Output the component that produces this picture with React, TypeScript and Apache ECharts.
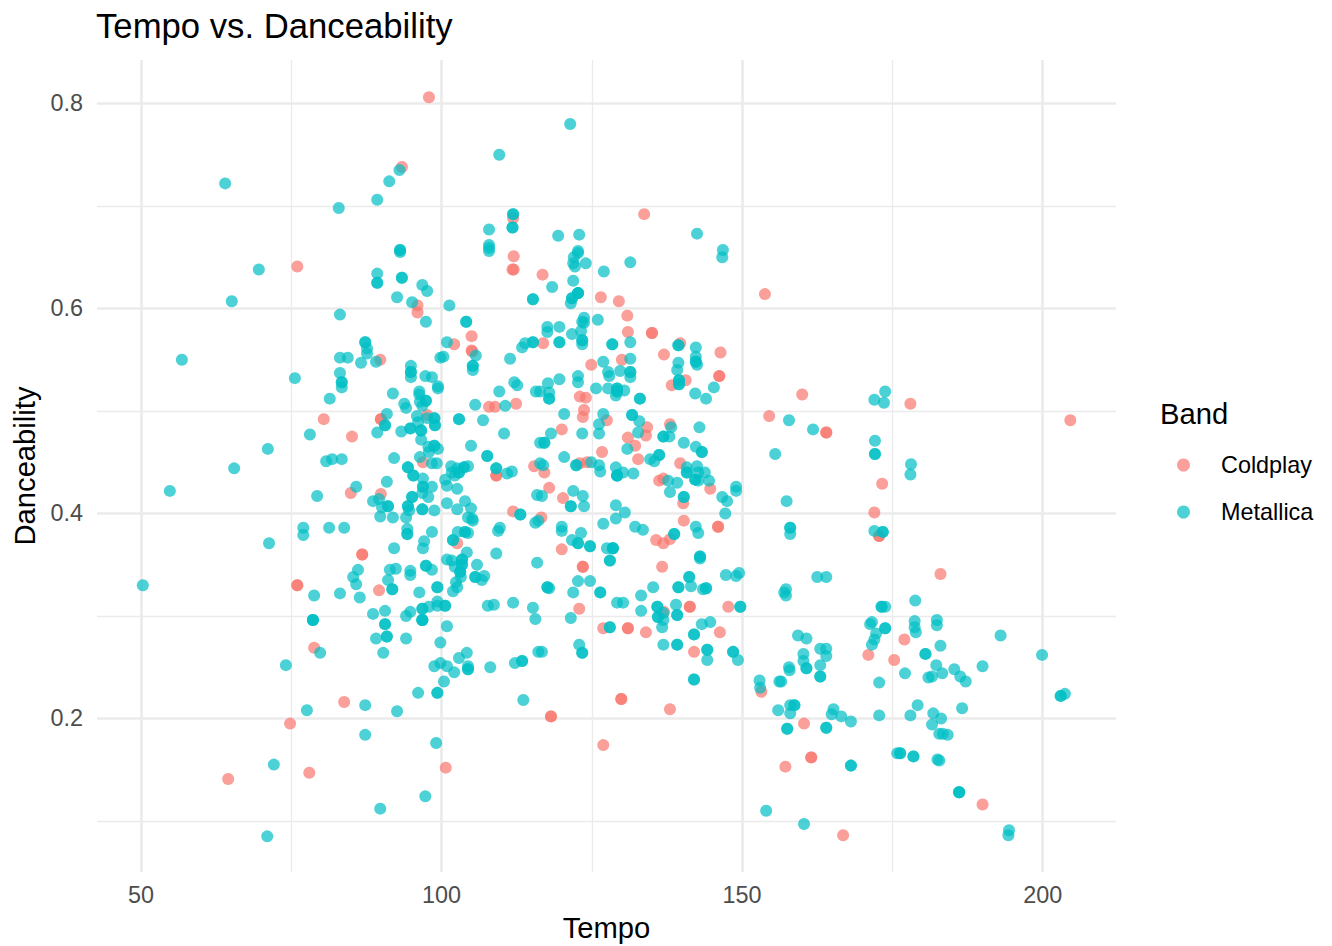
import React, { useEffect, useRef } from "react";
import * as echarts from "echarts";

const xMajor = [50, 100, 150, 200];
const xMinor = [75, 125, 175];
const yMajor = [0.2, 0.4, 0.6, 0.8];
const yMinor = [0.1, 0.3, 0.5, 0.7];

const coldplay: number[][] = [
  [97.9,.806],[93.4,.738],[76,.641],[133.7,.692],[111.9,.688],[112,.651],[112,.638],[111.8,.638],[116.8,.633],[126.5,.611],
  [129.5,.607],[130.9,.593],[131,.577],[96,.603],[96,.596],[153.8,.614],[105,.573],[102.1,.565],[105,.559],[105.1,.558],
  [135,.576],[135,.576],[139.7,.566],[137,.555],[146.4,.557],[146.2,.534],[146.2,.534],[130,.55],[89.8,.55],[124.9,.545],
  [138.3,.525],[140.6,.53],[160,.516],[178,.507],[123,.514],[124,.513],[123.7,.501],[123.5,.494],[120,.482],[127.5,.491],
  [134.2,.484],[134,.476],[138,.487],[131,.474],[132.2,.466],[132.7,.453],[126.7,.46],[123,.449],[124.2,.45],[117.1,.44],
  [117.9,.425],[120.2,.415],[139.7,.449],[136.2,.432],[136.9,.434],[144.7,.424],[140.2,.41],[140.3,.393],[146,.387],[146,.387],
  [135.7,.374],[136.9,.371],[138,.375],[120,.365],[123.5,.348],[123.5,.348],[136.7,.348],[122.9,.307],[141.3,.309],[141.3,.309],
  [147.7,.309],[126.9,.288],[131,.288],[131,.288],[134,.284],[146.3,.284],[137,.304],[142,.265],[129.9,.219],[129.9,.219],
  [80.4,.492],[85.1,.475],[89.9,.492],[89.9,.492],[97.6,.496],[96.9,.45],[89.9,.419],[84.9,.42],[107.9,.504],[108.9,.504],
  [112.4,.507],[109.1,.437],[109.1,.437],[115.4,.446],[111.9,.402],[116.6,.396],[102.6,.371],[116.9,.566],[86.8,.36],[86.8,.36],
  [76,.33],[76,.33],[89.6,.325],[154.5,.495],[204.6,.491],[164,.479],[164,.479],[173.3,.429],[172,.401],[172.8,.378],
  [172.8,.378],[183,.341],[177,.277],[78.8,.269],[171,.262],[175.3,.257],[153.2,.226],[83.8,.216],[138,.209],[118.2,.202],
  [118.2,.202],[74.8,.195],[160.3,.195],[126.9,.174],[64.5,.141],[78,.147],[100.7,.152],[157.2,.153],[161.5,.162],[161.5,.162],
  [190,.116],[166.8,.086],
];

const metallicaLeft: number[][] = [
  [50.3,.33],[54.8,.422],[56.8,.55],[64,.722],[65.1,.607],[65.5,.444],[69.6,.638],[71.1,.463],[71.3,.371],[71,.085],
  [72.1,.155],[74.1,.252],[75.6,.532],[77,.386],[77,.379],[77.6,.208],[78.1,.477],[78.6,.296],[78.6,.296],[78.6,.296],
  [78.8,.32],[79.3,.417],[79.8,.264],[80.8,.451],[81.8,.453],[81.4,.512],[81.3,.386],[82.9,.698],[83.1,.594],
  [87.3,.213],[87.3,.184],[89.8,.112],[92.6,.207],[99.1,.176],[97.3,.124],
  [89.3,.706],[91.3,.724],[93,.735],[89.3,.634],[89.3,.625],[89.3,.625],[93.1,.657],[93.1,.657],[93.1,.655],[93.4,.63],[93.4,.63],
  [92.6,.611],[96.8,.623],[97.6,.617],[95.1,.606],[101.3,.603],[107.9,.677],[107.9,.662],[107.9,.659],[107.9,.656],
  [111.9,.692],[111.9,.692],[111.8,.679],[111.8,.679],[109.6,.75],[115.2,.609],[115.2,.609],
];

const metallicaTopLeft: number[][] = [
  [97.4,.587],[104.1,.587],[104.1,.587],[87.3,.567],[87.3,.567],[87.6,.561],[87.6,.556],[84.4,.552],[86.6,.547],[89.1,.548],
  [83.1,.552],[100.9,.567],[105.7,.554],[99.8,.552],[100.3,.553],[105.2,.544],[105.2,.544],[105.2,.54],[111.4,.551],[113.4,.562],
  [113.9,.566],[115.2,.567],[115.2,.567],[94.9,.544],[94.9,.538],[94.9,.538],[94.9,.533],[97.3,.534],[98.4,.533],[83.1,.537],
  [83.4,.528],[83.4,.528],[83.4,.523],[99.4,.524],[99.4,.522],[91.9,.517],[96.3,.519],[96.3,.516],[93.8,.507],[94.1,.503],
  [97.4,.51],[97.4,.51],[96.4,.509],[96.8,.505],[109.6,.519],[112.1,.528],[112.6,.525],[115.7,.519],[105.6,.506],[110.6,.505],
  [90.9,.497],[90.6,.486],[90.6,.486],[89.3,.479],[93.3,.48],[94.8,.483],[94.8,.483],[95.9,.495],[96.1,.489],[96.6,.481],
  [96.6,.481],[97.6,.493],[98.8,.493],[98.8,.493],[98.9,.486],[98.9,.486],[102.9,.492],[102.9,.492],[106.9,.491],[110.4,.478],
  [96.6,.472],[104.9,.466],[83.4,.453],[92.1,.454],[97.8,.465],[98.8,.466],[98.8,.466],[99.4,.463],[96.4,.455],[97.9,.46],
  [98.4,.449],[99.2,.449],[107.6,.456],[107.6,.456],[109.1,.444],[109.1,.444],[111.7,.441],[110.9,.439],[101.6,.446],[101.7,.44],
  [102.2,.437],[102.9,.44],[102.9,.44],[103.7,.445],[103.7,.445],[104.4,.446],[102.6,.444],[94.4,.445],[94.4,.445],[95.3,.437],
  [95.3,.437],[96.9,.434],[96.9,.426],[96.9,.426],[98.4,.426],[90.9,.431],[100.6,.433],[100.9,.427],[102.6,.424],[85.8,.426],
  [88.6,.412],[89.6,.414],[90.1,.406],[91.1,.407],[91.1,.407],[96.8,.42],[97.8,.416],[95.1,.416],[95.1,.416],[94.4,.407],
  [94.4,.407],[94.6,.403],[96.8,.404],[96.8,.404],[98.8,.403],[100.9,.41],[102.6,.404],[103.9,.412],[104.9,.405],[89.8,.397],
  [91.9,.396],[94.1,.396],[104.4,.396],[105.1,.395],[113.1,.399],[113.1,.399],[115.9,.418],[116.4,.469],[116.4,.449],
];

const metallicaTopMiddle: number[][] = [
  [121.4,.78],[119.4,.671],[122.9,.672],[142.5,.673],[146.8,.657],[146.7,.65],[122,.65],[122.7,.654],[122.7,.656],[121.9,.644],
  [122.2,.641],[124,.644],[127,.636],[131.4,.645],[118.4,.621],[121.9,.627],[122.7,.615],[122.7,.615],[122.7,.615],[121.7,.61],
  [121.7,.61],[121.5,.605],[123.7,.591],
  [117.6,.582],[117.6,.577],[119.6,.582],[119.6,.567],[119.6,.567],[121.7,.575],[123.4,.587],[123.7,.586],[126,.589],[123.2,.578],
  [123.4,.569],[123.4,.569],[123.4,.565],[128.4,.565],[128.4,.565],[131.4,.567],[139.4,.564],[139.4,.564],[142.3,.562],[142.3,.553],
  [142.3,.548],[142.3,.548],[142.5,.545],[126.9,.548],[131.4,.551],[127.7,.538],[127.9,.534],[129.7,.539],[131.4,.538],[131.4,.538],
  [131.4,.533],[139.4,.547],[139.2,.54],[139.5,.53],[139.5,.53],[139.5,.526],[139.5,.526],[122.7,.534],[122.7,.528],[119.6,.531],
  [117.7,.527],[117.9,.518],[117.9,.512],[117.9,.512],[116.4,.519],[125.7,.522],[127.7,.522],[129.2,.522],[129.2,.522],[129.2,.519],
  [129.2,.519],[130.4,.52],[129,.515],[133,.512],[133,.512],[142.2,.517],[144,.512],[145.3,.523],[120.4,.497],[126.9,.497],
  [126.2,.487],[126.2,.478],[123.4,.478],[131.7,.496],[131.7,.496],[132.9,.49],[132.7,.479],[138.2,.484],[142.9,.484],[118.2,.478],
  [117.1,.469],[117.1,.469],[136.9,.475],[136.9,.475],[137.9,.475],[140.3,.469],[142.3,.465],[143.3,.46],[143.3,.46],[130.9,.463],
  [120.4,.455],[122.4,.447],[122.4,.447],[124.9,.45],[126.2,.447],[126.4,.441],[129,.445],[130.2,.44],[129.2,.437],[129.2,.437],
  [129.2,.437],[131.9,.439],[134.7,.453],[135.4,.451],[136.2,.457],[136.2,.457],[140.8,.445],[140.8,.44],[140.8,.44],[142.5,.446],
  [142.7,.44],[143.8,.44],[142.2,.433],[142.2,.433],[142.7,.432],[144.5,.432],[137.7,.432],[139.2,.43],[138,.421],[140.3,.416],
  [140.3,.416],[149,.426],[149,.422],[146.7,.416],[147.5,.412],[147.2,.4],[121.9,.422],[123.5,.417],[121.5,.407],[121.5,.407],
  [123.7,.407],[129,.408],[130.5,.401],[116.7,.417],[116.9,.447],
];

const metallicaBottomLeft: number[][] = [
  [83.8,.386],[94.3,.385],[94.3,.38],[94.3,.38],[98.4,.382],[97.1,.373],[96.9,.366],[92.1,.366],[101.9,.374],[101.9,.374],
  [102.7,.382],[103.9,.382],[103.9,.382],[104.4,.381],[105.2,.393],[109.4,.383],[109.7,.386],[115.6,.391],[116.1,.393],[104.2,.362],
  [109.1,.361],[115.9,.352],[100.9,.355],[101.7,.354],[103.4,.355],[103.4,.355],[103.4,.35],[103.4,.35],[102.2,.348],[103.1,.343],
  [103.1,.343],[103.2,.338],[105.9,.35],[105.6,.338],[105.6,.338],[107.1,.339],[106.7,.335],[97.4,.349],[97.4,.349],[98.4,.345],
  [94.8,.344],[94.8,.34],[92.4,.346],[91.4,.345],[91.1,.335],[91.8,.326],[91.8,.326],[86.1,.345],[85.3,.338],[85.8,.331],
  [83.1,.322],[86.4,.318],[96.3,.323],[99.3,.328],[99.3,.328],[102.4,.333],[102.6,.328],[101.9,.324],[99.3,.314],[99.3,.31],
  [97.9,.309],[100.6,.31],[100.6,.31],[107.7,.31],[108.7,.311],[111.9,.313],[115.2,.308],[115.6,.297],[96.8,.307],[96.8,.307],
  [96.8,.296],[96.8,.296],[96.8,.296],[94.8,.304],[94.1,.3],[90.6,.305],[88.6,.302],[90.6,.292],[90.6,.292],[90.9,.28],
  [90.9,.28],[89.1,.278],[94.1,.278],[90.3,.264],[100.9,.29],[99.8,.274],[104.2,.264],[102.9,.259],[104.4,.251],[104.4,.248],
  [104.4,.248],[102.1,.245],[100.9,.251],[99.8,.254],[98.8,.251],[108.1,.25],[112.2,.254],[113.4,.256],[113.4,.256],[116.1,.265],
  [100.4,.236],[96.1,.225],[99.3,.225],[99.3,.225],[113.6,.218],
];

const metallicaBottomMiddle: number[][] = [
  [126.9,.39],[129,.395],[132.2,.387],[133.5,.384],[120,.387],[120,.383],[123.2,.381],[121.7,.374],[122.7,.371],[122.7,.371],
  [124.7,.368],[124.7,.368],[127.5,.366],[128.5,.366],[128.5,.366],[128.5,.366],[128,.354],[128,.354],[138.7,.38],[138.7,.38],
  [142.3,.387],[142.7,.381],[143,.358],[143,.358],[143,.356],[147.3,.34],[149,.339],[149.5,.342],[141.2,.338],[141.2,.338],
  [141.5,.329],[139.4,.328],[139.4,.328],[143.5,.326],[144,.327],[144,.327],[135.2,.328],[133.2,.32],[133.2,.305],[126.4,.323],
  [126.4,.323],[122.7,.334],[124.7,.334],[121.9,.323],[117.6,.328],[117.6,.328],[117.9,.327],[129.2,.313],[130.2,.313],[135.9,.309],
  [135.9,.309],[136,.299],[136,.299],[136.9,.303],[136.9,.296],[136.7,.289],[139,.311],[139.2,.301],[139.2,.301],[144.7,.294],
  [143.3,.292],[142,.282],[142,.282],[136.9,.272],[139.2,.272],[139.2,.272],[144.2,.267],[144.2,.267],[144.2,.257],[148.5,.265],
  [148.5,.265],[149.3,.257],[142,.238],[142,.238],[128,.289],[128,.289],[121.5,.298],[122.9,.272],[123.4,.264],[123.4,.264],
  [116.7,.265],[149.7,.309],[149.7,.309],
];

const metallicaRight: number[][] = [
  [152.9,.237],[153,.23],[156.2,.236],[156.5,.236],[156,.208],[157.8,.25],[157.9,.247],[157.5,.19],[157.5,.19],[157,.323],
  [157.3,.32],[157.3,.326],[157.4,.412],[158,.386],[158,.386],[158,.38],[157.8,.491],[155.5,.458],[161.8,.482],[154,.11],
  [160.3,.097],[159.3,.281],[160.2,.263],[160.7,.278],[160.2,.256],[160.7,.249],[160.7,.249],[158,.213],[158.7,.213],[158.7,.213],
  [158,.205],[163,.268],[163,.252],[163,.241],[163,.241],[164,.268],[164,.261],[162.5,.338],[164,.338],[164,.191],
  [164,.191],[165.2,.209],[164.9,.204],[166.5,.202],[168.1,.197],[168.1,.154],[168.1,.154],[171.3,.292],[171.6,.294],[172,.511],
  [173.8,.519],[173.6,.508],[172.1,.471],[172.1,.458],[172.1,.458],[172,.383],[173.4,.382],[173.4,.382],[172,.277],[171.6,.272],
  [172.3,.283],[172.8,.235],[172.8,.203],[173.2,.309],[173.2,.309],[173.8,.309],[173.8,.288],[173.8,.288],[175.8,.166],[176.3,.166],
  [176.3,.166],[178,.203],[178.1,.448],[178,.438],[177.1,.244],[178.7,.295],[178.7,.289],[178.9,.284],[178.5,.163],[178.5,.163],
  [178.8,.315],[179.2,.213],[180.5,.263],[180.5,.263],[181,.24],[181.6,.241],[181.8,.205],[181.6,.194],[182.3,.252],[182.4,.296],
  [182.4,.291],[183.1,.2],[182.8,.185],[183.4,.185],[184.2,.184],[183,.271],[183.3,.244],[182.5,.16],[182.8,.159],[185.3,.248],
  [186.3,.241],[186.6,.21],[187.2,.236],[186.1,.128],[186.1,.128],[186.1,.128],[190,.251],[193,.281],[194.4,.091],[194.3,.086],
  [199.9,.262],[203,.222],[203,.222],[203.7,.224],
];

const metallica = [
  ...metallicaLeft,
  ...metallicaTopLeft,
  ...metallicaTopMiddle,
  ...metallicaBottomLeft,
  ...metallicaBottomMiddle,
  ...metallicaRight,
];

const FONT = "'Liberation Sans', Arial, Helvetica, sans-serif";
const GRID_COLOR = "#EBEBEB";

export default function App() {
  const ref = useRef<HTMLDivElement>(null);
  useEffect(() => {
    const chart = echarts.init(ref.current!, undefined, { renderer: "svg" });
    const xRange = { type: "value", min: 42.68, max: 212.2, scale: true };
    const yRange = { type: "value", min: 0.0502, max: 0.8424, scale: true };
    chart.setOption({
      animation: false,
      backgroundColor: "#ffffff",
      textStyle: { fontFamily: FONT },
      title: {
        text: "Tempo vs. Danceability",
        left: 96,
        top: 8,
        padding: 0,
        textStyle: { fontFamily: FONT, fontSize: 34.7, fontWeight: "normal", color: "#000" },
      },
      grid: { left: 97, top: 60, width: 1019, height: 812, containLabel: false, outerBoundsMode: "none" },
      xAxis: [
        {
          ...xRange,
          name: "Tempo",
          nameLocation: "middle",
          nameGap: 41,
          nameTextStyle: { fontFamily: FONT, fontSize: 29.2, color: "#000" },
          axisLine: { show: false },
          axisTick: { show: false, customValues: xMajor },
          axisLabel: {
            customValues: xMajor,
            color: "#4D4D4D",
            fontFamily: FONT,
            fontSize: 23.4,
            margin: 11,
            hideOverlap: false,
            showMinLabel: true,
            showMaxLabel: true,
          },
          splitLine: { show: true, lineStyle: { color: GRID_COLOR, width: 2.7 } },
        },
        {
          ...xRange,
          position: "bottom",
          axisLine: { show: false },
          axisTick: { show: false, customValues: xMinor },
          axisLabel: { show: false, customValues: xMinor },
          splitLine: { show: true, lineStyle: { color: GRID_COLOR, width: 1.35 } },
        },
      ],
      yAxis: [
        {
          ...yRange,
          name: "Danceability",
          nameLocation: "middle",
          nameGap: 52,
          nameTextStyle: { fontFamily: FONT, fontSize: 29.2, color: "#000" },
          axisLine: { show: false },
          axisTick: { show: false, customValues: yMajor },
          axisLabel: {
            customValues: yMajor,
            formatter: (v: number) => v.toFixed(1),
            color: "#4D4D4D",
            fontFamily: FONT,
            fontSize: 23.4,
            margin: 14,
          },
          splitLine: { show: true, lineStyle: { color: GRID_COLOR, width: 2.7 } },
        },
        {
          ...yRange,
          position: "left",
          axisLine: { show: false },
          axisTick: { show: false, customValues: yMinor },
          axisLabel: { show: false, customValues: yMinor },
          splitLine: { show: true, lineStyle: { color: GRID_COLOR, width: 1.35 } },
        },
      ],
      legend: {
        orient: "vertical",
        left: 1172,
        top: 446,
        itemWidth: 13,
        itemHeight: 13,
        itemGap: 19,
        icon: "circle",
        data: ["Coldplay", "Metallica"],
        textStyle: {
          fontFamily: FONT,
          fontSize: 23.4,
          color: "#000",
          padding: [0, 0, 0, 26],
          lineHeight: 28,
        },
      },
      graphic: [
        {
          type: "text",
          left: 1160,
          top: 399,
          style: { text: "Band", font: `29.2px ${FONT}`, fill: "#000" },
        },
      ],
      series: [
        {
          name: "Coldplay",
          type: "scatter",
          data: coldplay,
          symbolSize: 12,
          itemStyle: { color: "#F8766D", opacity: 0.7 },
          emphasis: { disabled: true },
        },
        {
          name: "Metallica",
          type: "scatter",
          data: metallica,
          symbolSize: 12,
          itemStyle: { color: "#00BFC4", opacity: 0.7 },
          emphasis: { disabled: true },
        },
      ],
    });
    return () => chart.dispose();
  }, []);
  return (
    <div
      ref={ref}
      style={{ position: "absolute", left: 0, top: 0, width: 1332, height: 946 }}
    />
  );
}
